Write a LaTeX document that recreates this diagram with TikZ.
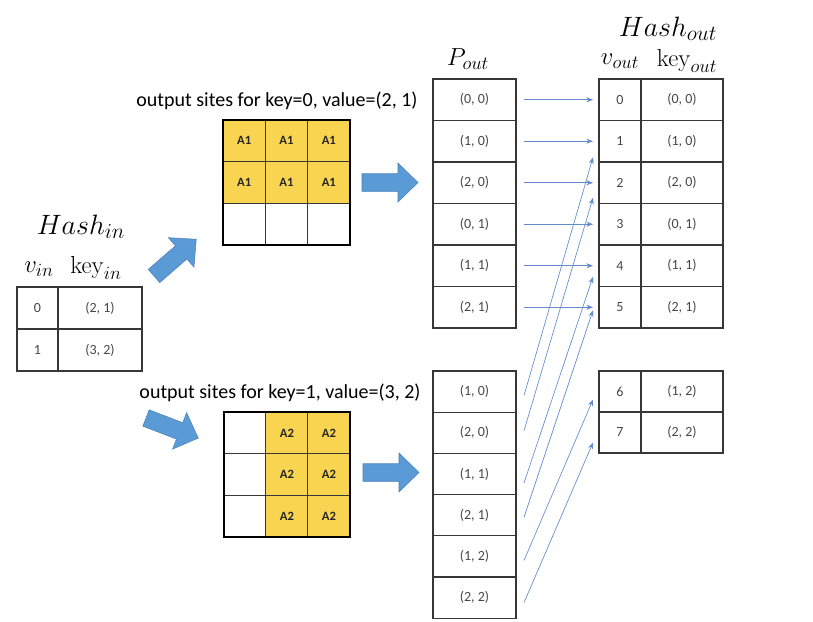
\RequirePackage{fix-cm}
\documentclass[tikz,border=0pt]{standalone}
\usepackage[no-math]{fontspec}
\setmainfont{Carlito}
\usetikzlibrary{calc,arrows.meta}
\DeclareMathSizes{21}{21}{16}{12}
\DeclareMathSizes{18.5}{18.5}{14}{10}
\definecolor{gold}{RGB}{248,212,80}
\definecolor{fatblue}{RGB}{91,155,213}
\definecolor{fatedge}{RGB}{72,128,188}
\definecolor{thinblue}{RGB}{100,140,205}
\definecolor{gridline}{RGB}{55,55,55}
\definecolor{celltext}{RGB}{70,70,70}

\tikzset{
  cell/.style 2 args={draw=gridline, line width=0.9pt, minimum width=#1*0.75pt,
    minimum height=#2*0.75pt, inner sep=0pt, outer sep=0pt,
    font=\fontsize{10.5}{12}\selectfont, text=celltext},
  gcell/.style={draw=gridline, line width=0.6pt, minimum width=42.3*0.75pt,
    minimum height=41.7*0.75pt, inner sep=0pt, outer sep=0pt,
    font=\fontsize{9.5}{11}\selectfont\bfseries, text=black!85},
  site/.style={gcell, fill=gold},
  frame/.style={draw=black, line width=1.5pt},
  title/.style={font=\fontsize{15}{17}\selectfont, inner sep=0pt},
  bigmath/.style={font=\fontsize{21}{24}\selectfont, inner sep=0pt},
  midmath/.style={font=\fontsize{18.5}{21}\selectfont, inner sep=0pt},
  link/.style={draw=thinblue, line width=0.5pt, -{Stealth[length=5pt,width=3.8pt]}},
  fatarrow/.pic={\filldraw[fill=fatblue, draw=fatedge, line width=0.4pt]
    (0,-8.75) -- (36,-8.75) -- (36,-19.5) -- (56,0) -- (36,19.5) -- (36,8.75) -- (0,8.75) -- cycle;}
}

\begin{document}
\begin{tikzpicture}[x=0.75pt,y=-0.75pt]
\useasboundingbox (0,0) rectangle (813,621);

% ---- input hash table ----
\node[bigmath] (hinlbl) at (81,227) {$Hash_{in}$};
\node[midmath] (vinlbl) at (39,269) {$v_{in}$};
\node[midmath] (kinlbl) at (96,268) {$\mathrm{key}_{in}$};
\node[cell={41}{42}] (hv0) at (37.5,308) {0};
\node[cell={84}{42}] (hk0) at (100,308) {(2, 1)};
\node[cell={41}{42}] (hv1) at (37.5,350) {1};
\node[cell={84}{42}] (hk1) at (100,350) {(3, 2)};

% ---- fat arrows ----
\pic at (154,276) [rotate=41] {fatarrow};
\pic at (146,418) [rotate=-21] {fatarrow};
\pic at (362,182.5) {fatarrow};
\pic at (363,472.5) {fatarrow};

% ---- output sites, key 0 ----
\node[title] (t0) at (277,101) {output sites for key=0, value=(2, 1)};
\foreach \c [count=\j] in {244.2,286.5,328.8}{
  \node[site] (a1\j) at (\c,140.8) {A1};
  \node[site] (a2\j) at (\c,182.5) {A1};
  \node[gcell] (a3\j) at (\c,224.2) {};
}
\draw[frame] (a11.north west) rectangle (a33.south east);

% ---- output sites, key 1 ----
\node[title] (t1) at (280,393) {output sites for key=1, value=(3, 2)};
\foreach \r [count=\i] in {433,474.7,516.3}{
  \node[gcell] (b\i1) at (245,\r) {};
  \node[site] (b\i2) at (287,\r) {A2};
  \node[site] (b\i3) at (329,\r) {A2};
}
\draw[frame] (b11.north west) rectangle (b33.south east);

% ---- P_out ----
\node[midmath] (plbl) at (468,59) {$P_{out}$};
\foreach \t [count=\i] in {{(0, 0)},{(1, 0)},{(2, 0)},{(0, 1)},{(1, 1)},{(2, 1)}}{
  \node[cell={83}{41.5}] (p\i) at (474.5,{79+41.5*(\i-0.5)}) {\t};
}
\foreach \t [count=\i] in {{(1, 0)},{(2, 0)},{(1, 1)},{(2, 1)},{(1, 2)},{(2, 2)}}{
  \node[cell={83}{41.2}] (q\i) at (474.5,{371+41.2*(\i-0.5)}) {\t};
}

% ---- output hash table ----
\node[bigmath] (houtlbl) at (668,29) {$Hash_{out}$};
\node[midmath] (voutlbl) at (620,61) {$v_{out}$};
\node[midmath] (koutlbl) at (687,61) {$\mathrm{key}_{out}$};
\foreach \t [count=\i] in {{(0, 0)},{(1, 0)},{(2, 0)},{(0, 1)},{(1, 1)},{(2, 1)}}{
  \pgfmathtruncatemacro{\idx}{\i-1}
  \node[cell={42}{41.5}] (v\i) at (620,{79+41.5*(\i-0.5)}) {\idx};
  \node[cell={82}{41.5}] (k\i) at (682,{79+41.5*(\i-0.5)}) {\t};
}
\node[cell={42}{41}] (v7) at (620,391.5) {6};
\node[cell={82}{41}] (k7) at (682,391.5) {(1, 2)};
\node[cell={42}{41}] (v8) at (620,432.5) {7};
\node[cell={82}{41}] (k8) at (682,432.5) {(2, 2)};

% ---- mapping arrows ----
\foreach \i in {1,...,6}{
  \draw[link] ($(p\i.east)+(8,0)$) -- ($(v\i.west)+(-6,0)$);
}
\foreach \s/\d/\a/\b in {1/2/4/16, 2/3/-2/15, 3/5/9/11, 4/6/2/3, 5/7/4/8, 6/8/5/10}{
  \draw[link] ($(q\s.east)+(8,\a)$) -- ($(v\d.west)+(-6,\b)$);
}
\end{tikzpicture}
\end{document}
